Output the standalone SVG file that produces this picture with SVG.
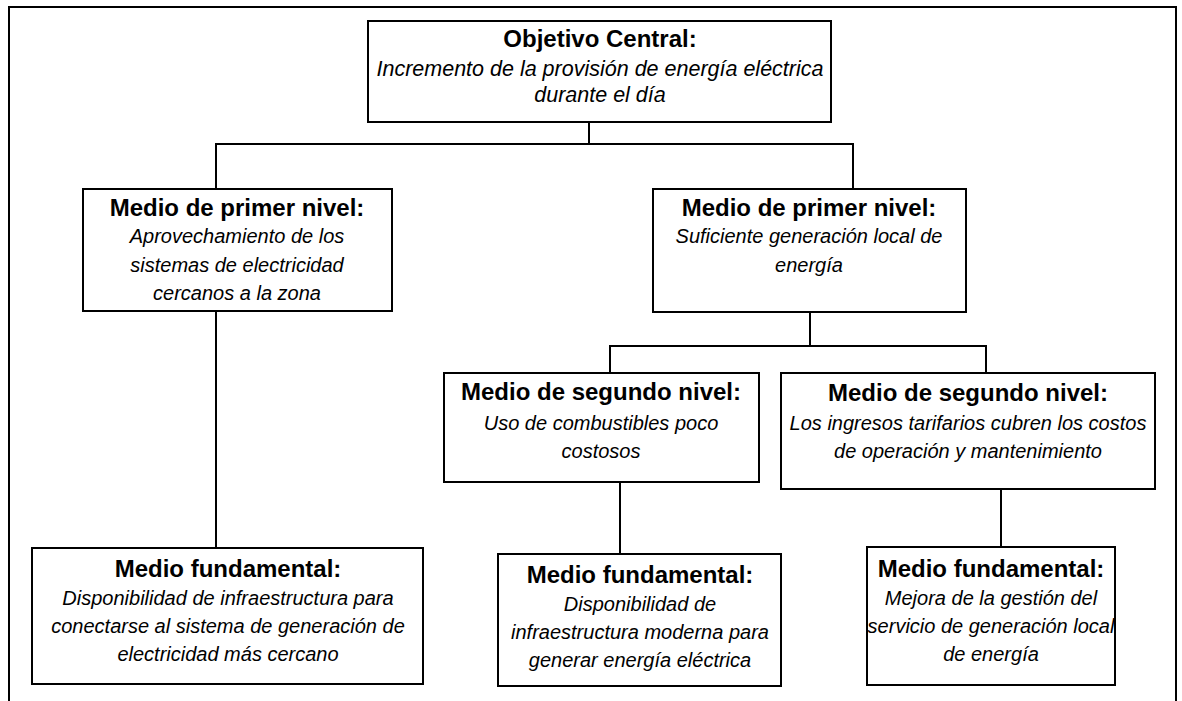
<svg xmlns="http://www.w3.org/2000/svg" width="1182" height="701" viewBox="0 0 1182 701">
<style>
.box{fill:#fff;stroke:#000;stroke-width:2}
.frame{fill:none;stroke:#000;stroke-width:2}
.conn{fill:none;stroke:#000;stroke-width:2}
.t{font-family:"Liberation Sans",Arial,sans-serif;font-weight:bold;font-size:24px;fill:#000;text-anchor:middle}
.b{font-family:"Liberation Sans",Arial,sans-serif;font-style:italic;font-size:20px;fill:#000;text-anchor:middle}
.bt{font-size:21.5px}
</style>
<rect width="1182" height="701" fill="#fff"/>
<path class="frame" d="M9,701 V7 H1176 V701"/>
<g id="connectors">
<path class="conn" d="M589,122 V144"/>
<path class="conn" d="M216,189 V144 H853 V189"/>
<path class="conn" d="M216,311 V548"/>
<path class="conn" d="M810,312 V346"/>
<path class="conn" d="M610,373 V346 H986 V373"/>
<path class="conn" d="M620,482 V554"/>
<path class="conn" d="M1001,489 V547"/>
</g>
<g id="objetivo">
<rect class="box" x="368" y="21" width="463" height="101"/>
<text class="t" x="600" y="47">Objetivo Central:</text>
<text class="b bt" x="600" y="76">Incremento de la provisión de energía eléctrica</text>
<text class="b bt" x="600" y="102">durante el día</text>
</g>
<g id="medio1-izq">
<rect class="box" x="83" y="189" width="309" height="122"/>
<text class="t" x="237" y="216">Medio de primer nivel:</text>
<text class="b" x="237" y="243">Aprovechamiento de los</text>
<text class="b" x="237" y="272">sistemas de electricidad</text>
<text class="b" x="237" y="300">cercanos a la zona</text>
</g>
<g id="medio1-der">
<rect class="box" x="653" y="189" width="313" height="123"/>
<text class="t" x="809" y="216">Medio de primer nivel:</text>
<text class="b" x="809" y="243">Suficiente generación local de</text>
<text class="b" x="809" y="272">energía</text>
</g>
<g id="medio2-izq">
<rect class="box" x="444" y="373" width="315" height="109"/>
<text class="t" x="601" y="400">Medio de segundo nivel:</text>
<text class="b" x="601" y="430">Uso de combustibles poco</text>
<text class="b" x="601" y="458">costosos</text>
</g>
<g id="medio2-der">
<rect class="box" x="781" y="373" width="374" height="116"/>
<text class="t" x="968" y="401">Medio de segundo nivel:</text>
<text class="b" x="968" y="430">Los ingresos tarifarios cubren los costos</text>
<text class="b" x="968" y="458">de operación y mantenimiento</text>
</g>
<g id="fund-izq">
<rect class="box" x="32" y="548" width="391" height="136"/>
<text class="t" x="228" y="577">Medio fundamental:</text>
<text class="b" x="228" y="605">Disponibilidad de infraestructura para</text>
<text class="b" x="228" y="633">conectarse al sistema de generación de</text>
<text class="b" x="228" y="661">electricidad más cercano</text>
</g>
<g id="fund-med">
<rect class="box" x="498" y="554" width="283" height="132"/>
<text class="t" x="640" y="583">Medio fundamental:</text>
<text class="b" x="640" y="611">Disponibilidad de</text>
<text class="b" x="640" y="639">infraestructura moderna para</text>
<text class="b" x="640" y="667">generar energía eléctrica</text>
</g>
<g id="fund-der">
<rect class="box" x="867" y="547" width="248" height="138"/>
<text class="t" x="991" y="577">Medio fundamental:</text>
<text class="b" x="991" y="605">Mejora de la gestión del</text>
<text class="b" x="991" y="633">servicio de generación local</text>
<text class="b" x="991" y="661">de energía</text>
</g>
</svg>
